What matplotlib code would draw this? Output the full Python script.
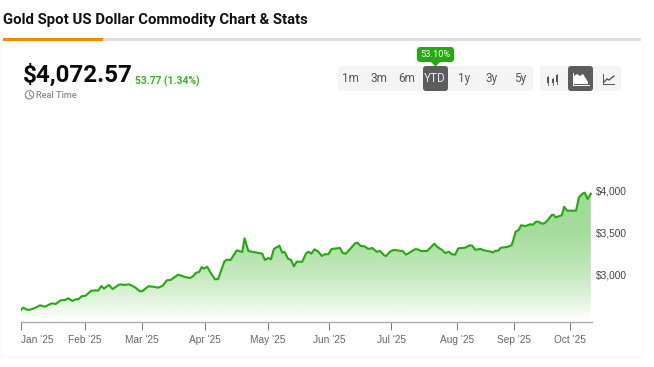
import numpy as np
import matplotlib
matplotlib.use('Agg')
import matplotlib.pyplot as plt
from matplotlib.patches import FancyBboxPatch, Rectangle, Polygon

# trading session number / gold price
sessions = [0, 0.9, 2.1, 3.2, 4.9, 6.7, 8.4, 10.7, 12.1, 13.8, 15.3, 16.4, 17.8, 19, 19.9, 21, 22.4, 24.2, 25.6, 26.7,
            27.8, 28.7, 30.4, 31.7, 33.9, 34.8, 35.6, 37.4, 39.4, 41.1, 42, 44, 45.7, 47.4, 49, 50.4, 51.7, 54.3, 56.7, 58.4,
            59.5, 60.4, 61.6, 62.4, 63.2, 64.3, 65.5, 67, 68.1, 70.2, 71, 72.4, 74.5, 76.4, 77.2, 78.5, 83.3, 84.2, 85.4, 86.3,
            87.3, 89.2, 90.2, 91, 92.2, 93.2, 94.2, 95.2, 97.1, 98.4, 99.3, 100.2, 101.3, 102.5, 103.9, 104.9, 106.1, 107.2, 110.1, 111,
            112.1, 113.5, 115.3, 116.1, 117.2, 118.5, 119.9, 121.2, 122.8, 123.9, 125.3, 126, 127.3, 128.5, 131.7, 132.9, 136, 137.1, 137.9, 140.2,
            142.6, 143.7, 145.2, 146.4, 147.7, 148.6, 149.8, 150.9, 153.2, 154.9, 155.7, 156.7, 158.6, 159.7, 162.2, 162.8, 163.7, 164.7, 165.5, 167.6,
            169.3, 170.7, 171.8, 172.5, 174.1, 175.6, 176.6, 177.7, 178.5, 179.7, 180.6, 181.8, 183.1, 183.7, 184.5, 186.6, 187.4, 188.4, 191.5, 192.5,
            193.7, 194.5, 195.5, 196.6]
prices = [2571, 2599, 2575, 2575, 2595, 2627, 2611, 2651, 2643, 2687, 2690, 2711, 2679, 2699, 2699, 2735, 2742, 2798, 2806, 2801,
          2857, 2825, 2869, 2821, 2873, 2877, 2869, 2877, 2842, 2794, 2798, 2854, 2849, 2837, 2861, 2925, 2929, 2992, 2964, 2952,
          2976, 3012, 3027, 3083, 3063, 3087, 3015, 2937, 2940, 3146, 3170, 3167, 3282, 3262, 3425, 3274, 3242, 3167, 3190, 3175,
          3298, 3337, 3254, 3262, 3182, 3167, 3092, 3146, 3146, 3246, 3265, 3242, 3294, 3270, 3214, 3235, 3235, 3298, 3310, 3250,
          3242, 3294, 3365, 3373, 3333, 3330, 3298, 3310, 3265, 3274, 3223, 3214, 3265, 3286, 3274, 3230, 3295, 3292, 3274, 3274,
          3361, 3321, 3289, 3250, 3265, 3235, 3230, 3306, 3313, 3342, 3337, 3289, 3298, 3282, 3265, 3254, 3277, 3277, 3313, 3321,
          3342, 3504, 3527, 3580, 3571, 3592, 3587, 3623, 3623, 3599, 3604, 3643, 3702, 3706, 3675, 3699, 3801, 3754, 3754, 3913,
          3956, 3968, 3893, 3956]

month_labels = ["Jan '25", "Feb '25", "Mar '25", "Apr '25", "May '25", "Jun '25", "Jul '25", "Aug '25", "Sep '25", "Oct '25"]
month_ticks = [0, 22.07, 41.8, 63.5, 85.3, 106.4, 127.8, 150.5, 170.1, 189.3]
price_ticks = [3000, 3500, 4000]
price_labels = ['$3,000', '$3,500', '$4,000']
ranges = ['1m', '3m', '6m', 'YTD', '1y', '3y', '5y']
range_x = [350.5, 378.5, 407, 435, 464, 492, 520]

W, H = 654, 367
GREEN = '#22ab0c'
fig = plt.figure(figsize=(W / 100, H / 100), dpi=100)

# page furniture is drawn on a full size axes in pixel coordinates
bg = fig.add_axes([0, 0, 1, 1])
bg.set_xlim(0, W)
bg.set_ylim(H, 0)
bg.axis('off')

for i, c in enumerate(['#f3f3f3', '#f7f7f7', '#fbfbfb']):
    bg.add_patch(Rectangle((3 - i - 1, 40), 638 + 2 * i + 2, 316 + i + 1, color=c, lw=0))
bg.add_patch(Rectangle((3, 40), 638, 315, color='white', lw=0))
bg.add_patch(Rectangle((3, 38), 638, 3, color='#dedede', lw=0))
bg.add_patch(Rectangle((3, 38), 100, 3, color='#f38b00', lw=0))

bg.text(3, 20, 'Gold Spot US Dollar Commodity Chart & Stats', family='Roboto', weight='bold', fontsize=10.7,
        color='#111111', va='center', ha='left')
bg.text(23, 75.5, '$4,072.57', family='Roboto', weight='bold', fontsize=17.4, color='#0a0a0a', va='center', ha='left')
bg.text(135, 81, '53.77 (1.34%)', family='Roboto', weight='bold', fontsize=7.4, color='#35b51f', va='center', ha='left')
bg.text(36, 96, 'Real Time', family='Roboto', weight='medium', fontsize=6.6, color='#8a8a8a', va='center', ha='left')

# little clock icon
t = np.radians(np.linspace(-200, 150, 40))
bg.plot(29.5 + 4.2 * np.cos(t), 94.8 + 4.2 * np.sin(t), color='#8a8a8a', lw=0.8)
bg.plot([29.5, 29.5, 31.8], [92.5, 95.2, 96.4], color='#8a8a8a', lw=0.7)


def round_box(x0, y0, x1, y1, color, r=3):
    bg.add_patch(FancyBboxPatch((x0 + r, y0 + r), x1 - x0 - 2 * r, y1 - y0 - 2 * r,
                                boxstyle='round,pad=%f,rounding_size=%f' % (r, r), color=color, lw=0))


# range buttons
round_box(338, 66, 533, 91, '#f4f4f4')
round_box(540, 66, 621, 91, '#f4f4f4')
round_box(423, 66, 448, 91, '#5c5c5c')
round_box(568, 66, 593, 91, '#5c5c5c')
for label, x in zip(ranges, range_x):
    bg.text(x, 78.5, label, family='Roboto', fontsize=8.5, va='center', ha='center',
            color='#dfe8f5' if label == 'YTD' else '#555555')

round_box(417, 47, 454, 62, '#22ab0c', r=3.5)
bg.add_patch(Polygon([[431, 62], [440, 62], [435.5, 66.5]], color='#22ab0c', lw=0))
bg.text(435.5, 54.7, '53.10%', family='Roboto', fontsize=6.7, color='white', va='center', ha='center')

# chart type icons
for x, y0, y1 in [(548, 77, 83), (552.5, 79, 83), (556.5, 75, 82)]:
    bg.plot([x, x], [y0 - 1.5, y1 + 1.5], color='#555555', lw=0.6)
    bg.add_patch(Rectangle((x - 1, y0), 2, y1 - y0, color='#555555', lw=0))
bg.add_patch(Polygon([[574, 84], [574, 76], [577, 74], [580, 76], [583, 74], [588, 82], [588, 84]], color='white', lw=0))
bg.plot([573, 573, 589], [73, 85, 85], color='white', lw=0.7)
bg.plot([603, 603, 614], [74, 84, 84], color='#555555', lw=0.7)
bg.plot([604, 607, 609, 614], [82, 79, 80, 76], color='#555555', lw=1)

# the chart itself
left, right, top, bottom = 20.7, 591.7, 180, 321.5
ax = fig.add_axes([left / W, 1 - bottom / H, (right - left) / W, (bottom - top) / H])
ax.patch.set_alpha(0)

y_base = 2455
poly = ax.fill_between(sessions, prices, y_base, color='none', lw=0)
grad = np.zeros((256, 1, 4))
grad[:, 0, :3] = matplotlib.colors.to_rgb(GREEN)
grad_y = np.linspace(3970, y_base, 256)
grad[:, 0, 3] = np.interp(grad_y, [y_base, 2690, 3000, 3500, 3970], [0.0, 0.135, 0.27, 0.41, 0.44])
img = ax.imshow(grad, extent=[0, 196.6, y_base, 3970], aspect='auto', origin='upper', zorder=1)
img.set_clip_path(poly.get_paths()[0], ax.transData)
ax.set_xlim(0, (right - left) / 2.9)
ax.set_ylim(4000 - (bottom - 190) * 500 / 42, 4000 + (190 - top) * 500 / 42)
ax.plot(sessions, prices, color=GREEN, lw=1.5, zorder=2, solid_joinstyle='round')

for s in ['top', 'left', 'right']:
    ax.spines[s].set_visible(False)
ax.spines['bottom'].set_color('#aaaaaa')
ax.spines['bottom'].set_linewidth(1.0)
ax.set_xticks(month_ticks)
ax.set_xticklabels(month_labels, family='Liberation Sans', fontsize=7.3, color='#666666')
ax.get_xticklabels()[0].set_ha('left')
ax.tick_params(axis='x', length=5.5, width=0.7, color='#777777', pad=4)
ax.yaxis.tick_right()
ax.set_yticks(price_ticks)
ax.set_yticklabels(price_labels, family='Liberation Sans', fontsize=7.3, color='#444444')
ax.tick_params(axis='y', length=0, pad=3)

fig.savefig('out.png', dpi=100)
